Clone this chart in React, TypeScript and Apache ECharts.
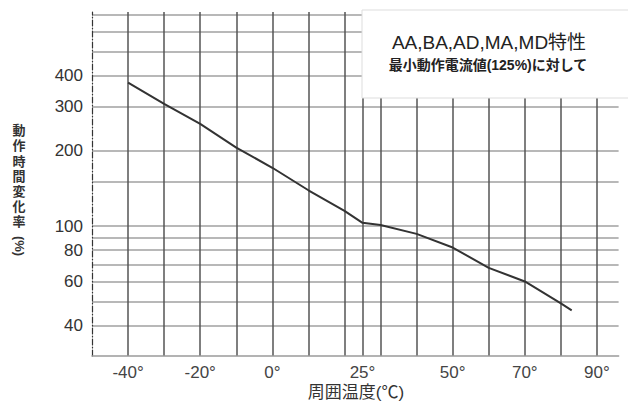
import React, { useEffect, useRef } from "react";
import * as echarts from "echarts";

// Ambient temperature (°C) and operating-time change rate (%)
const temps = [-40, -30, -20, -10, 0, 10, 20, 25, 30, 40, 50, 60, 70, 80, 83];
const rates = [375, 308, 256, 206, 171, 139, 115, 103, 101, 93, 82, 68, 60, 49, 46];

const yTickLabels = [40, 60, 80, 100, 200, 300, 400];
const yGridValues = [40, 50, 60, 70, 80, 90, 100, 150, 200, 300, 400, 500, 600, 700];
const xTickLabels = [-40, -20, 0, 25, 50, 70, 90];
const xGridValues = [-40, -30, -20, -10, 0, 10, 20, 25, 30, 40, 50, 60, 70, 80, 90];

const Y_MIN = 30.2;
const Y_MAX = 718;
const X_MIN = -50;
const X_MAX = 96;

const titleMain = "AA,BA,AD,MA,MD特性";
const titleSub = "最小動作電流値(125%)に対して";
const yTitle = "動作時間変化率";
const yTitleUnit = "(%)";
const xTitle = "周囲温度(℃)";

const FONT = "'Liberation Sans', 'Noto Sans CJK JP', sans-serif";
const lg = (v: number) => Math.log10(v);

export default function App() {
  const ref = useRef<HTMLDivElement>(null);
  useEffect(() => {
    if (!ref.current) return;
    const chart = echarts.init(ref.current, null, { renderer: "svg" });
    chart.setOption({
      animation: false,
      backgroundColor: "#ffffff",
      textStyle: { fontFamily: FONT },
      grid: { left: 92, top: 12, right: 9.4, bottom: 47, outerBoundsMode: "none" },
      xAxis: {
        type: "value",
        min: X_MIN,
        max: X_MAX,
        axisLine: { show: true, onZero: false, lineStyle: { color: "#9a9a9a", width: 1.5 } },
        axisTick: { show: false, customValues: xGridValues },
        axisLabel: {
          customValues: xTickLabels,
          formatter: (v: number) => `${v}°`,
          color: "#444",
          fontSize: 17,
          margin: 8,
          fontFamily: FONT,
        },
        splitLine: { show: true, lineStyle: { color: "#555", width: 1.5 } },
      },
      yAxis: {
        type: "value",
        min: lg(Y_MIN),
        max: lg(Y_MAX),
        axisLine: { show: true, onZero: false, lineStyle: { color: "#333", width: 1.2, type: [6, 2, 1, 2] } },
        axisTick: { show: false, customValues: yGridValues.map(lg) },
        axisLabel: {
          customValues: yTickLabels.map(lg),
          formatter: (v: number) => String(Math.round(Math.pow(10, v))),
          color: "#333",
          fontSize: 17,
          margin: 9,
          fontFamily: FONT,
        },
        splitLine: { show: true, lineStyle: { color: "#a0a0a0", width: 1.5 } },
      },
      series: [
        {
          type: "line",
          data: temps.map((t, i) => [t, lg(rates[i])]),
          showSymbol: false,
          lineStyle: { color: "#333", width: 2 },
          z: 3,
        },
      ],
      graphic: [
        {
          type: "rect",
          z: 100,
          shape: { x: 362, y: 10, width: 270, height: 88 },
          style: { fill: "#ffffff", stroke: "#dddddd", lineWidth: 1 },
        },
        {
          type: "text",
          z: 101,
          x: 489,
          y: 42,
          style: {
            text: titleMain,
            fontSize: 19,
            fontFamily: FONT,
            fill: "#222",
            align: "center",
            verticalAlign: "middle",
          },
        },
        {
          type: "text",
          z: 101,
          x: 488,
          y: 65,
          style: {
            text: titleSub,
            fontSize: 14,
            fontWeight: "bold",
            fontFamily: FONT,
            fill: "#222",
            align: "center",
            verticalAlign: "middle",
          },
        },
        {
          type: "text",
          z: 101,
          x: 19,
          y: 123,
          style: {
            text: yTitle.split("").join("\n"),
            fontSize: 13,
            lineHeight: 15.2,
            fontWeight: "bold",
            fontFamily: FONT,
            fill: "#333",
            align: "center",
            verticalAlign: "top",
          },
        },
        {
          type: "text",
          z: 101,
          x: 19,
          y: 246,
          rotation: -Math.PI / 2,
          style: {
            text: yTitleUnit,
            fontSize: 13,
            fontWeight: "bold",
            fontFamily: FONT,
            fill: "#333",
            align: "center",
            verticalAlign: "middle",
          },
        },
        {
          type: "text",
          z: 101,
          x: 356,
          y: 392,
          style: {
            text: xTitle,
            fontSize: 17,
            fontFamily: FONT,
            fill: "#333",
            align: "center",
            verticalAlign: "middle",
          },
        },
      ],
    });
    return () => chart.dispose();
  }, []);
  return (
    <div
      ref={ref}
      style={{ position: "fixed", left: 0, top: 0, width: 628, height: 403 }}
    />
  );
}
